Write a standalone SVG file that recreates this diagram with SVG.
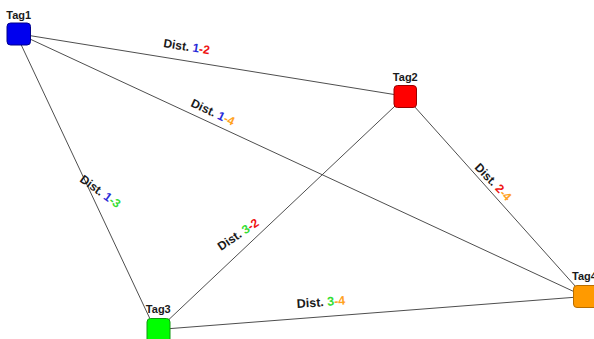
<svg xmlns="http://www.w3.org/2000/svg" width="594" height="339" viewBox="0 0 594 339">
  <style>
    .edge { stroke: #3a3a3a; stroke-width: 0.9; fill: none; }
    .box { stroke-width: 1; }
    .tag { font-family: "Liberation Sans", Arial, sans-serif; font-weight: bold; font-size: 11px; fill: #1a1a1a; text-anchor: middle; }
    .dist { font-family: "Liberation Sans", Arial, sans-serif; font-weight: bold; font-size: 12px; fill: #1a1a1a; }
    .c1 { fill: #2a2ad8; }
    .c2 { fill: #ee1111; }
    .c3 { fill: #33dd33; }
    .c4 { fill: #ffa21e; }
  </style>
  <rect width="594" height="339" fill="#ffffff"/>

  <!-- connectors between tags, with distance labels -->
  <g id="connectors">
    <line class="edge" x1="18.7" y1="33.8" x2="405.3" y2="96.3"/>
    <line class="edge" x1="18.7" y1="33.8" x2="584.5" y2="296.5"/>
    <line class="edge" x1="16" y1="33.8" x2="155" y2="329.5"/>
    <line class="edge" x1="405.3" y1="96.3" x2="158.3" y2="329.5"/>
    <line class="edge" x1="405.3" y1="96.3" x2="584.5" y2="296.5"/>
    <line class="edge" x1="158.3" y1="329.5" x2="584.5" y2="296.5"/>

    <text class="dist" transform="translate(163,47) rotate(9)">Dist. <tspan class="c1">1</tspan><tspan class="c2">-2</tspan></text>
    <text class="dist" transform="translate(190,106) rotate(25)">Dist. <tspan class="c1">1</tspan><tspan class="c4">-4</tspan></text>
    <text class="dist" transform="translate(79,181) rotate(36)">Dist. <tspan class="c1">1</tspan><tspan class="c3">-3</tspan></text>
    <text class="dist" transform="translate(221,251) rotate(-34)">Dist. <tspan class="c3">3</tspan><tspan class="c2">-2</tspan></text>
    <text class="dist" transform="translate(474,168) rotate(46)">Dist. <tspan class="c2">2</tspan><tspan class="c4">-4</tspan></text>
    <text class="dist" transform="translate(297,308) rotate(-4)" style="font-size:12.5px">Dist. <tspan class="c3">3</tspan><tspan class="c4">-4</tspan></text>
  </g>

  <g id="tag1">
    <rect class="box" x="7" y="23" width="23.5" height="22" rx="3.5" fill="#0000ee" stroke="#00008a"/>
    <text class="tag" x="18.7" y="18.5">Tag1</text>
  </g>
  <g id="tag2">
    <rect class="box" x="394" y="85.5" width="22.5" height="22" rx="3.5" fill="#ff0000" stroke="#990000"/>
    <text class="tag" x="405.3" y="80.5">Tag2</text>
  </g>
  <g id="tag3">
    <rect class="box" x="147" y="318.5" width="23" height="24" rx="3.5" fill="#00ff00" stroke="#119911"/>
    <text class="tag" x="158.3" y="313">Tag3</text>
  </g>
  <g id="tag4">
    <rect class="box" x="573.5" y="285.5" width="24" height="22" rx="3.5" fill="#ff9a00" stroke="#b86e00"/>
    <text class="tag" x="572" y="280" style="text-anchor:start">Tag4</text>
  </g>
</svg>
